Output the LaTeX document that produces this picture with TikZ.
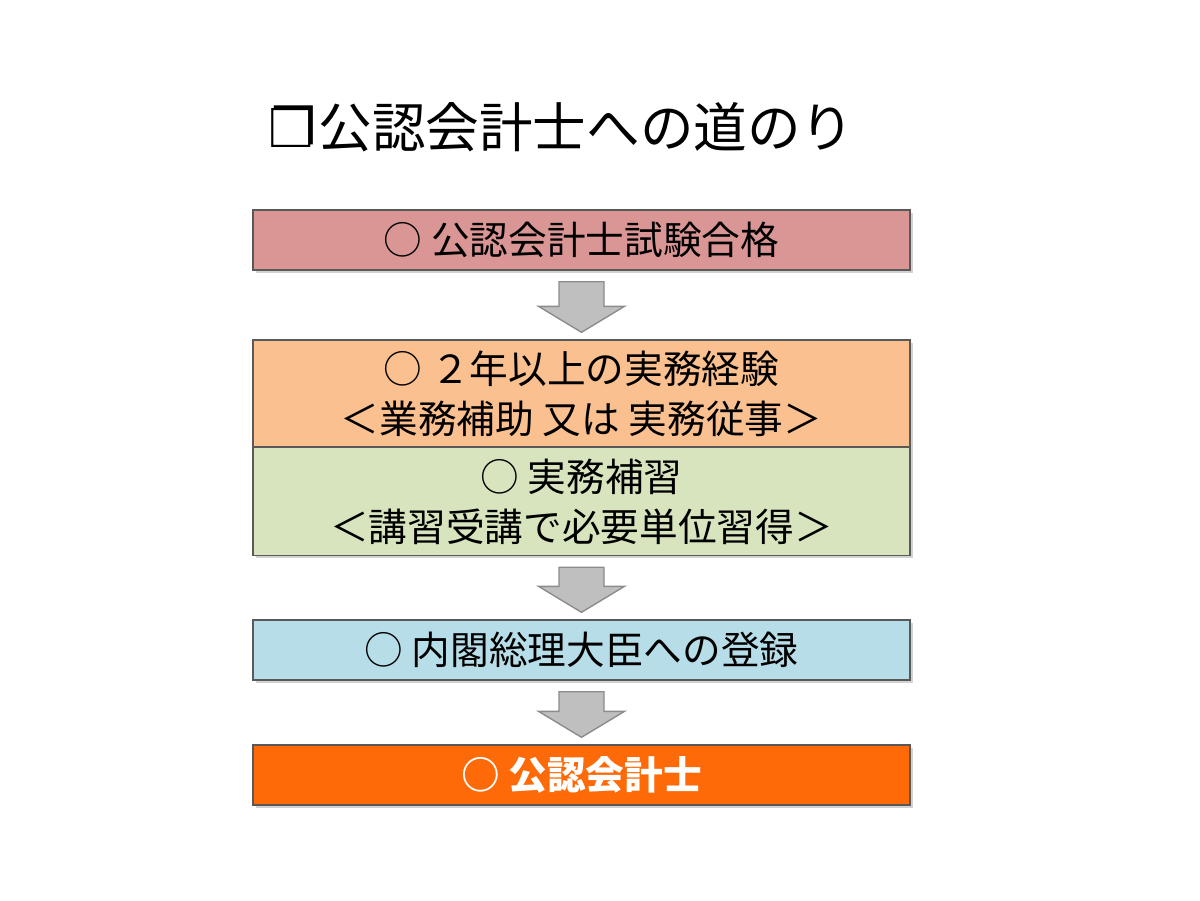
\documentclass[tikz,border=0pt]{standalone}
\usepackage{fontspec}
\setmainfont{Noto Sans CJK JP}
\newfontfamily\symfont{DejaVu Sans}
\usepackage{xcolor}
\usetikzlibrary{calc,shadows}

\definecolor{examred}{RGB}{218,150,148}
\definecolor{workorange}{RGB}{250,192,143}
\definecolor{traingreen}{RGB}{215,228,189}
\definecolor{regblue}{RGB}{183,222,232}
\definecolor{cpaorange}{RGB}{255,106,8}

\tikzset{
  stepbox/.style={draw=black!65, line width=0.8pt, minimum width=13.14cm, align=center,
    font=\fontsize{22}{28.5}\selectfont,
    drop shadow={opacity=0.35, shadow xshift=1.5pt, shadow yshift=-1.5pt}},
  blockarrow/.style={draw=black!45, fill=black!25, line width=0.8pt}
}

\begin{document}
\begin{tikzpicture}
    \useasboundingbox (0,0) rectangle (24,-18);
    \fill[white] (0,0) rectangle (24,-18);

    % Title
    \node[anchor=west, font=\fontsize{30.5}{34}\selectfont] (title) at (5.25,-2.54)
        {{\symfont ❐}\hspace{1pt}公認会計士への道のり};

    % Steps
    \node[stepbox, fill=examred, minimum height=1.2cm] (exam) at (11.63,-4.8) {○ 公認会計士試験合格};
    \node[stepbox, fill=workorange, minimum height=2.14cm] (work) at (11.63,-7.87)
        {○ ２年以上の実務経験\\＜業務補助 又は 実務従事＞};
    \node[stepbox, fill=traingreen, minimum height=2.16cm] (train) at (11.63,-10.03)
        {○ 実務補習\\＜講習受講で必要単位習得＞};
    \node[stepbox, fill=regblue, minimum height=1.2cm] (reg) at (11.63,-13.0) {○ 内閣総理大臣への登録};
    \node[stepbox, fill=cpaorange, minimum height=1.2cm, text=white, font=\fontsize{22}{28.5}\selectfont\bfseries] (cpa) at (11.63,-15.5) {○ 公認会計士};

    % Arrows
    \foreach \a/\b in {exam/work, train/reg, reg/cpa} {
        \draw[blockarrow] ($(\a.south)+(-0.45,-0.22)$) -- ($(\a.south)+(0.45,-0.22)$)
            -- ($(\b.north)+(0.45,0.66)$) -- ($(\b.north)+(0.86,0.66)$)
            -- ($(\b.north)+(0,0.14)$)
            -- ($(\b.north)+(-0.86,0.66)$) -- ($(\b.north)+(-0.45,0.66)$) -- cycle;
    }
\end{tikzpicture}
\end{document}
